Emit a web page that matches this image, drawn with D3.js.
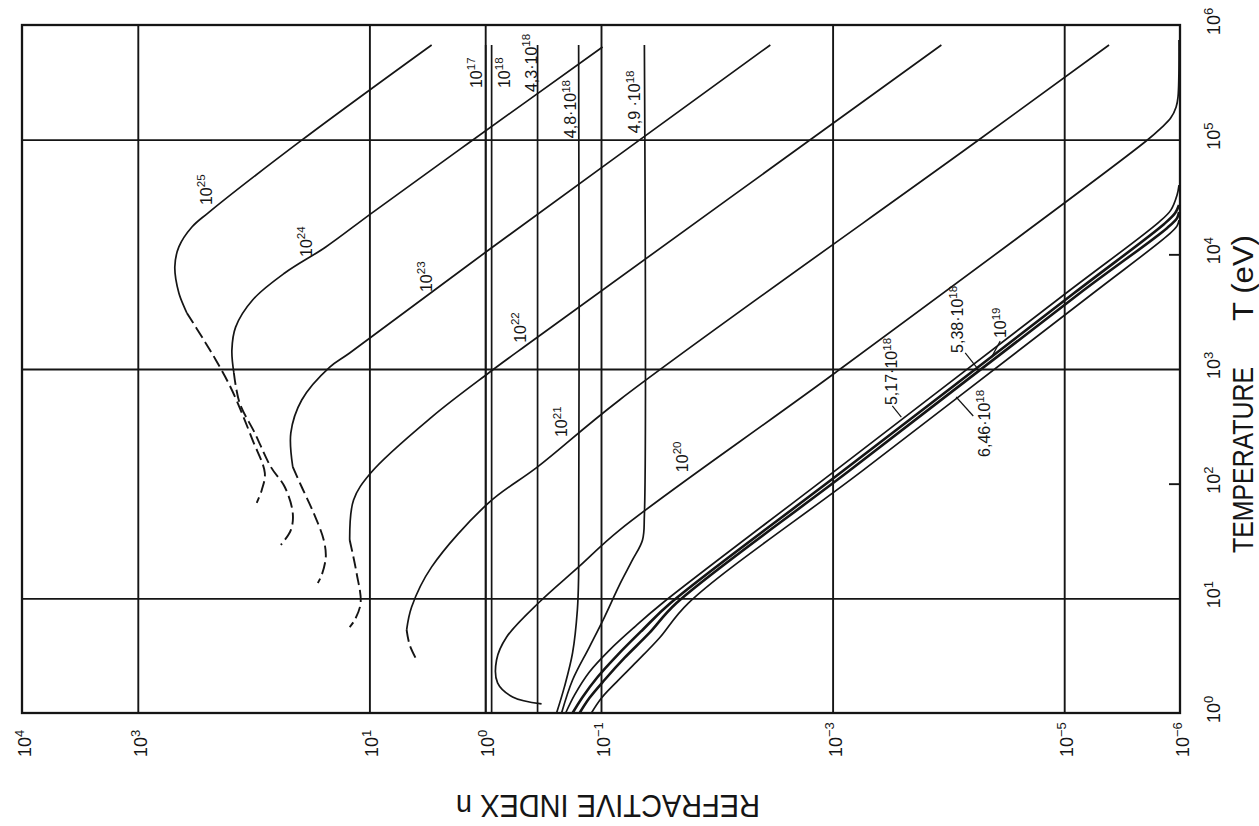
<!DOCTYPE html>
<meta charset="utf-8">
<script src="https://d3js.org/d3.v7.min.js"></script>
<style>
  body { margin: 0; background: #fff; }
  text { font-family: "Liberation Sans", Arial, sans-serif; fill: #151515; }
</style>
<div id="chart"></div>
<script>

// refractive index n against temperature T (eV), one curve per density
// every point is [T, n]

// high densities: solid part, then the dashed low-T part
var d1e25 = [[6.7e5,2.9],[9.9e4,38.4],[2.29e4,248],[1.73e4,341],[1.16e4,442],[7.75e3,479],[4.6e3,442],[3.08e3,377]];
var d1e25Dash = [[3.08e3,377],[1.79e3,269],[1.2e3,212],[656,154],[240,102],[124,80],[88,85],[68,94]];
var d1e24 = [[6.43e5,0.097],[9.35e4,1.39],[2.29e4,9.55],[1.16e4,23.8],[6.87e3,53.8],[4.0e3,102],[2.32e3,143],[1.46e3,154],[923,148]];
var d1e24Dash = [[923,148],[505,132],[277,97.7],[140,71],[93.5,53.8],[55.5,45.9],[39.4,47.7],[29.2,58.2]];
var d1e23 = [[6.7e5,0.00345],[1.09e4,0.935],[1.38e3,14.8],[1.04e3,22.0],[537,38.4],[277,47.7],[140,45.9]];
var d1e23Dash = [[140,45.9],[93.5,38.4],[55.5,30.3],[32.3,24.8],[22.9,23.8],[16.0,25.8],[13.6,27.9]];
var d1e22 = [[6.7e5,1.15e-4],[1.79e3,0.382],[923,0.935],[381,2.9],[124,9.75],[72,13.7],[32.3,14.8]];
var d1e22Dash = [[32.3,14.8],[16.6,12.9],[9.1,11.9],[6.47,13.4],[5.62,14.8]];
var d1e21 = [[6.7e5,4.1e-6],[9.73e4,5.64e-5],[537,0.0692],[140,0.353],[68,0.935],[18.8,2.9],[8.4,4.32],[5.3,4.77]];
var d1e21Dash = [[5.3,4.77],[3.92,4.49],[2.79,3.83]];
var d1e20 = [[7.4e5,1.02e-6],[2.36e5,1.04e-6],[1.93e5,1.08e-6],[1.55e5,1.2e-6],[1.26e5,1.46e-6],[9.73e4,1.96e-6],
             [942,9.3e-4],[39.4,0.0692],[18.8,0.156],[9.29,0.34],[4.6,0.653],[2.9,0.798],[1.83,0.782],[1.38,0.58],[1.2,0.326]];

// the bundle just above critical density
var d517e16 = [[1,0.202],[1.44,0.169],[2.28,0.126],[3.54,0.0845],[5.62,0.0514],[9.1,0.0294],[132,9.3e-4],[4.6e3,9.6e-6],[1.91e4,1.52e-6],[2.43e4,1.2e-6],[3.29e4,1.06e-6],[4.02e4,1.02e-6]];
var d538e16 = [[1,0.176],[1.38,0.144],[2.06,0.107],[3.2,0.0721],[5.3,0.0438],[9.1,0.0251],[132,7.9e-4],[4.6e3,8.2e-6],[1.84e4,1.37e-6],[2.29e4,1.1e-6],[2.69e4,1.02e-6]];
var d1e19 = [[1,0.153],[1.35,0.126],[1.94,0.0933],[3.02,0.0627],[4.99,0.0382],[9.1,0.0223],[132,7.0e-4],[4.6e3,7.3e-6],[1.7e4,1.29e-6],[2.07e4,1.06e-6],[2.34e4,1.02e-6]];
var d646e16 = [[1,0.121],[1.35,0.099],[1.86,0.0735],[2.79,0.0494],[4.51,0.0313],[9.1,0.0176],[132,5.4e-4],[4.6e3,5.6e-6],[1.5e4,1.24e-6],[1.77e4,1.06e-6],[1.99e4,1.02e-6]];

// below critical density: n nearly constant
var d1e17 = [[6.7e5,0.99],[1,0.99]];
var d1e18 = [[6.7e5,0.88],[1,0.88]];
var d43e17 = [[6.7e5,0.353],[1,0.353]];
var d48e17 = [[6.7e5,0.156],[16,0.156],[7.91,0.16],[3.34,0.176],[1.69,0.207],[1,0.242]];
var d49e17 = [[6.7e5,0.0422],[53.3,0.0422],[32.3,0.0438],[21.6,0.0535],[13.1,0.0692],[6.87,0.0933],[3.76,0.126],[1.94,0.176],[1,0.219]];

// curve labels: text, exponent, and [T, n] of the start of the text
var curveLabels = [
  ["10","25",2.69e4,230], ["10","24",9.48e3,31.5], ["10","23",4.69e3,2.9], ["10","22",1.69e3,0.448],
  ["10","21",255,0.195], ["10","20",126,0.0179], ["10","17",2.82e5,1.07], ["10","18",2.82e5,0.615],
  ["4,3·10","18",2.6e5,0.36], ["4,8·10","18",1.03e5,0.163], ["4,9 ·10","18",1.14e5,0.0456],
  ["5,17·10","18",485,2.77e-4], ["5,38·10","18",1.38e3,7.45e-5], ["10","19",1.86e3,3.17e-5],
  ["6,46·10","18",171,4.36e-5]
];
// short leader lines from labels to the bundle
var leaders = [
  [[476,3.05e-4],[381,2.55e-4]],
  [[1.38e3,7.16e-5],[1.02e3,5.64e-5]],
  [[1.75e3,3.57e-5],[1.25e3,4.27e-5]],
  [[570,8.57e-5],[389,6.1e-5]]
];

// axes
var nGrid = [1e3, 1e1, 1e0, 1e-1, 1e-3, 1e-5];
var tGrid = [1e1, 1e3, 1e5];
var tMinor = [1e2, 1e4];
var nTickValues = [1e4, 1e3, 1e1, 1e0, 1e-1, 1e-3, 1e-5, 1e-6];
var nTickExp = ["4", "3", "1", "0", "−1", "−3", "−5", "−6"];
var tTickValues = [1e0, 1e1, 1e2, 1e3, 1e4, 1e5, 1e6];
var tTickExp = ["0", "1", "2", "3", "4", "5", "6"];

var W = 1259, H = 826;
var plot = {left: 22, right: 1180, top: 25, bottom: 713};
var ink = "#151515";

var svg = d3.select("#chart").append("svg")
    .attr("width", W)
    .attr("height", H);

svg.append("rect").attr("width", W).attr("height", H).attr("fill", "#fff");

// n runs left to right (10^4 .. 10^-6), T runs bottom to top
var x = d3.scaleLog().domain([1e4, 1e-6]).range([plot.left, plot.right]);
var y = d3.scaleLog().domain([1, 1e6]).range([plot.bottom, plot.top]);

// grid lines
var gx = svg.append("g")
    .attr("transform", "translate(0," + plot.bottom + ")")
    .call(d3.axisBottom(x).tickValues(nGrid).tickSize(-(plot.bottom - plot.top)).tickFormat(""));
var gy = svg.append("g")
    .attr("transform", "translate(" + plot.left + ",0)")
    .call(d3.axisLeft(y).tickValues(tGrid).tickSize(-(plot.right - plot.left)).tickFormat(""));
var gt = svg.append("g")
    .attr("transform", "translate(" + plot.right + ",0)")
    .call(d3.axisRight(y).tickValues(tMinor).tickSize(-11).tickFormat(""));
[gx, gy, gt].forEach(function(g) {
  g.select(".domain").remove();
  g.selectAll("line").attr("stroke", ink).attr("stroke-width", 1.9);
});

svg.append("rect")
    .attr("x", plot.left).attr("y", plot.top)
    .attr("width", plot.right - plot.left).attr("height", plot.bottom - plot.top)
    .attr("fill", "none").attr("stroke", ink).attr("stroke-width", 2.3);

// curves
var line = d3.line()
    .x(function(d) { return x(d[1]); })
    .y(function(d) { return y(d[0]); })
    .curve(d3.curveCatmullRom.alpha(0.5));

var solid = [d1e25, d1e24, d1e23, d1e22, d1e21, d1e20, d517e16, d646e16, d1e17, d1e18, d43e17, d48e17, d49e17];
var dashed = [d1e25Dash, d1e24Dash, d1e23Dash, d1e22Dash, d1e21Dash];
var heavy = [d538e16, d1e19];

var curves = svg.append("g").attr("fill", "none").attr("stroke", ink);
solid.forEach(function(d) {
  curves.append("path").attr("d", line(d)).attr("stroke-width", 1.7);
});
heavy.forEach(function(d) {
  curves.append("path").attr("d", line(d)).attr("stroke-width", 2.6);
});
dashed.forEach(function(d) {
  curves.append("path").attr("d", line(d)).attr("stroke-width", 1.9).attr("stroke-dasharray", "12,5");
});
leaders.forEach(function(d) {
  curves.append("path").attr("d", d3.line()(d.map(function(p) { return [x(p[1]), y(p[0])]; })))
      .attr("stroke-width", 1.2);
});

// rotated "10^k" style text
function powText(px, py, rot, base, exp, fs, anchor) {
  var t = svg.append("text")
      .attr("transform", "translate(" + px + "," + py + ") rotate(" + rot + ")")
      .attr("text-anchor", anchor || "start")
      .attr("font-size", fs);
  t.append("tspan").text(base);
  t.append("tspan").attr("dy", -fs * 0.4).attr("font-size", fs * 0.72).text(exp);
  return t;
}

curveLabels.forEach(function(d) {
  powText(x(d[3]), y(d[2]), -90, d[0], d[1], 16);
});

nTickValues.forEach(function(v, i) {
  powText(x(v) + 9, 757, -90, "10", nTickExp[i], 18);
});
tTickValues.forEach(function(v, i) {
  powText(1220, y(v) + 10, -90, "10", tTickExp[i], 18);
});

// axis titles
svg.append("text")
    .attr("transform", "translate(1253,460) rotate(-90)")
    .attr("text-anchor", "middle")
    .attr("font-family", "Liberation Sans Narrow")
    .attr("font-size", 30)
    .attr("textLength", 186).attr("lengthAdjust", "spacingAndGlyphs")
    .text("TEMPERATURE");
svg.append("text")
    .attr("transform", "translate(1253,278) rotate(-90)")
    .attr("text-anchor", "middle")
    .attr("font-family", "Liberation Sans Narrow")
    .attr("font-size", 30)
    .attr("textLength", 86).attr("lengthAdjust", "spacingAndGlyphs")
    .text("T (eV)");
svg.append("text")
    .attr("transform", "translate(608,795) rotate(180)")
    .attr("text-anchor", "middle")
    .attr("font-family", "Liberation Sans Narrow")
    .attr("font-size", 32)
    .attr("textLength", 304).attr("lengthAdjust", "spacingAndGlyphs")
    .text("REFRACTIVE  INDEX  n");

</script>
